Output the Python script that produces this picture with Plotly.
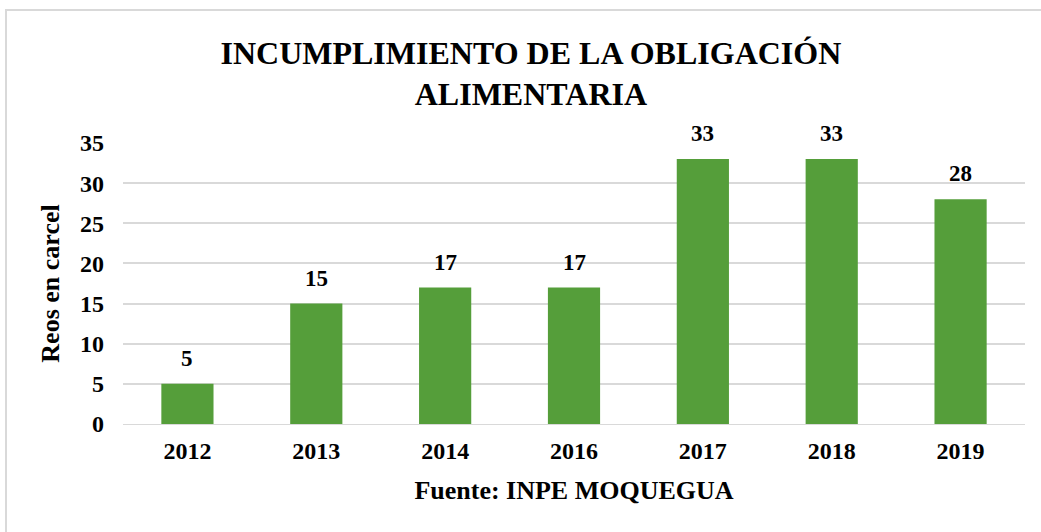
import plotly.graph_objects as go

years = ["2012", "2013", "2014", "2016", "2017", "2018", "2019"]
reos = [5, 15, 17, 17, 33, 33, 28]
y_ticks = [0, 5, 10, 15, 20, 25, 30, 35]

title_text = "INCUMPLIMIENTO DE LA OBLIGACIÓN<br>ALIMENTARIA"
x_title = "Fuente: INPE MOQUEGUA"
y_title = "Reos en carcel"

FONT = "Liberation Serif"
W, H = 1041, 532
L, R, T, B = 123, 16, 143, 108
pw, ph = W - L - R, H - T - B

def px(x):
    return (x - L) / pw

def py(y):
    return (H - B - y) / ph

fig = go.Figure(go.Bar(
    x=years, y=reos,
    marker=dict(color="#559E3A", line=dict(width=0)),
    hoverinfo="x+y",
))

# value labels above bars (category index on a category axis)
for i, v in enumerate(reos):
    fig.add_annotation(x=i, y=v, xref="x", yref="y",
                       text="<b>" + str(v) + "</b>",
                       showarrow=False, yanchor="bottom", yshift=11,
                       font=dict(family=FONT, size=23, color="#000000"))

fig.update_layout(
    width=W, height=H,
    margin=dict(l=L, r=R, t=T, b=B),
    paper_bgcolor="white", plot_bgcolor="white",
    bargap=0.595,
    showlegend=False,
    title=dict(text="<b>" + title_text + "</b>", x=0.51, xanchor="center",
               y=0.88, yanchor="top",
               font=dict(family=FONT, size=32, color="#000000")),
    xaxis=dict(
        type="category", categoryorder="array", categoryarray=years,
        range=[-0.5, len(years) - 0.5],
        tickmode="array", tickvals=years,
        ticktext=["<b>" + y + "</b>" for y in years],
        tickfont=dict(family=FONT, size=24, color="#000000"),
        showline=True, linecolor="#d9d9d9", linewidth=1,
        ticks="", showgrid=False, ticklabelstandoff=5, tickangle=0,
        title=dict(text="<b>" + x_title + "</b>", standoff=18,
                   font=dict(family=FONT, size=26, color="#000000")),
    ),
    yaxis=dict(
        range=[0, 35], tickmode="array", tickvals=y_ticks,
        ticktext=["<b>" + str(v) + "</b>" for v in y_ticks],
        tickfont=dict(family=FONT, size=24, color="#000000"),
        showgrid=True, gridcolor="#d9d9d9", gridwidth=1.5,
        zeroline=False, ticks="", ticklabelstandoff=18,
        title=dict(text="<b>" + y_title + "</b>", standoff=12,
                   font=dict(family=FONT, size=26, color="#000000")),
    ),
    shapes=[dict(type="rect", xref="paper", yref="paper",
                 x0=px(6), x1=px(1060), y0=py(560), y1=py(10),
                 line=dict(color="#d9d9d9", width=2), layer="above")],
)

fig.write_html("out.html", config={"displayModeBar": False},
               post_script="document.body.style.margin='0';")
